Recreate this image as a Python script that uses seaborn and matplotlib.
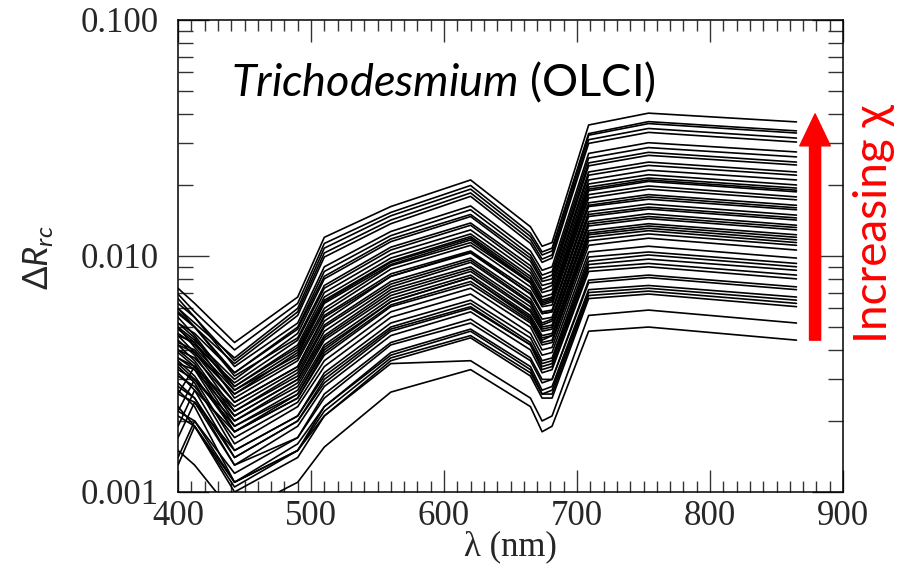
import numpy as np
import pandas as pd
import matplotlib
matplotlib.use("Agg")
import matplotlib.pyplot as plt
import seaborn as sns
from matplotlib.ticker import MultipleLocator, LogLocator, FixedLocator, FuncFormatter, NullFormatter
from matplotlib.patches import FancyArrowPatch

# ---------------- data ----------------
wavelengths = [400, 412.5, 442.5, 490, 510, 560, 620, 665, 673.75, 681.25, 708.75, 753.75, 865]

spectra = [
    [0.0073, 0.0063, 0.0043, 0.0067, 0.0120, 0.0162, 0.0210, 0.0133, 0.0110, 0.0114, 0.0359, 0.0403, 0.0370],
    [0.0069, 0.0058, 0.0040, 0.0063, 0.0113, 0.0153, 0.0199, 0.0125, 0.0104, 0.0108, 0.0330, 0.0371, 0.0339],
    [0.0060, 0.0052, 0.0037, 0.0060, 0.0108, 0.0148, 0.0192, 0.0121, 0.0101, 0.0105, 0.0325, 0.0364, 0.0332],
    [0.0066, 0.0055, 0.0036, 0.0058, 0.0103, 0.0142, 0.0185, 0.0117, 0.0097, 0.0101, 0.0311, 0.0347, 0.0316],
    [0.0058, 0.0050, 0.0035, 0.0056, 0.0099, 0.0137, 0.0179, 0.0113, 0.0094, 0.0098, 0.0300, 0.0334, 0.0304],
    [0.0063, 0.0055, 0.0034, 0.0052, 0.0090, 0.0127, 0.0163, 0.0105, 0.0087, 0.0090, 0.0272, 0.0302, 0.0276],
    [0.0052, 0.0047, 0.0032, 0.0050, 0.0086, 0.0122, 0.0157, 0.0101, 0.0083, 0.0086, 0.0260, 0.0288, 0.0263],
    [0.0060, 0.0050, 0.0032, 0.0049, 0.0082, 0.0118, 0.0150, 0.0098, 0.0080, 0.0083, 0.0248, 0.0275, 0.0250],
    [0.0050, 0.0044, 0.0030, 0.0047, 0.0080, 0.0115, 0.0147, 0.0095, 0.0078, 0.0080, 0.0241, 0.0267, 0.0243],
    [0.0057, 0.0050, 0.0031, 0.0045, 0.0075, 0.0109, 0.0138, 0.0091, 0.0075, 0.0077, 0.0227, 0.0250, 0.0227],
    [0.0047, 0.0042, 0.0029, 0.0044, 0.0073, 0.0106, 0.0135, 0.0088, 0.0072, 0.0075, 0.0220, 0.0242, 0.0220],
    [0.0055, 0.0046, 0.0028, 0.0042, 0.0070, 0.0102, 0.0129, 0.0085, 0.0070, 0.0072, 0.0210, 0.0231, 0.0210],
    [0.0046, 0.0043, 0.0028, 0.0041, 0.0067, 0.0098, 0.0124, 0.0082, 0.0067, 0.0069, 0.0202, 0.0221, 0.0200],
    [0.0052, 0.0045, 0.0027, 0.0040, 0.0065, 0.0095, 0.0121, 0.0080, 0.0065, 0.0067, 0.0196, 0.0214, 0.0194],
    [0.0043, 0.0040, 0.0026, 0.0039, 0.0064, 0.0094, 0.0119, 0.0078, 0.0064, 0.0066, 0.0192, 0.0210, 0.0190],
    [0.0050, 0.0041, 0.0027, 0.0038, 0.0063, 0.0092, 0.0117, 0.0077, 0.0063, 0.0065, 0.0189, 0.0207, 0.0187],
    [0.0042, 0.0039, 0.0026, 0.0037, 0.0060, 0.0091, 0.0114, 0.0077, 0.0062, 0.0064, 0.0182, 0.0198, 0.0178],
    [0.0049, 0.0043, 0.0025, 0.0036, 0.0058, 0.0088, 0.0111, 0.0074, 0.0061, 0.0062, 0.0176, 0.0192, 0.0173],
    [0.0040, 0.0037, 0.0024, 0.0034, 0.0056, 0.0084, 0.0105, 0.0071, 0.0058, 0.0059, 0.0168, 0.0182, 0.0164],
    [0.0046, 0.0039, 0.0024, 0.0034, 0.0055, 0.0082, 0.0103, 0.0069, 0.0057, 0.0058, 0.0164, 0.0178, 0.0160],
    [0.0026, 0.0034, 0.0023, 0.0033, 0.0053, 0.0082, 0.0104, 0.0069, 0.0057, 0.0058, 0.0162, 0.0174, 0.0157],
    [0.0044, 0.0038, 0.0022, 0.0032, 0.0051, 0.0078, 0.0098, 0.0066, 0.0054, 0.0055, 0.0154, 0.0166, 0.0149],
    [0.0037, 0.0034, 0.0022, 0.0031, 0.0050, 0.0076, 0.0096, 0.0064, 0.0052, 0.0054, 0.0150, 0.0161, 0.0145],
    [0.0042, 0.0036, 0.0021, 0.0030, 0.0048, 0.0074, 0.0094, 0.0063, 0.0051, 0.0053, 0.0147, 0.0158, 0.0142],
    [0.0035, 0.0033, 0.0021, 0.0030, 0.0046, 0.0072, 0.0090, 0.0061, 0.0050, 0.0051, 0.0140, 0.0151, 0.0135],
    [0.0040, 0.0035, 0.0020, 0.0029, 0.0045, 0.0070, 0.0088, 0.0059, 0.0049, 0.0050, 0.0137, 0.0147, 0.0132],
    [0.0022, 0.0030, 0.0020, 0.0028, 0.0044, 0.0068, 0.0086, 0.0058, 0.0048, 0.0049, 0.0134, 0.0144, 0.0129],
    [0.0039, 0.0034, 0.0019, 0.0027, 0.0042, 0.0066, 0.0083, 0.0056, 0.0046, 0.0047, 0.0128, 0.0137, 0.0123],
    [0.0033, 0.0030, 0.0019, 0.0026, 0.0041, 0.0064, 0.0081, 0.0054, 0.0045, 0.0046, 0.0125, 0.0134, 0.0120],
    [0.0037, 0.0033, 0.0018, 0.0026, 0.0040, 0.0064, 0.0081, 0.0055, 0.0044, 0.0046, 0.0123, 0.0131, 0.0117],
    [0.0019, 0.0027, 0.0018, 0.0025, 0.0039, 0.0062, 0.0078, 0.0053, 0.0043, 0.0044, 0.0120, 0.0128, 0.0114],
    [0.0036, 0.0031, 0.0018, 0.0025, 0.0038, 0.0061, 0.0076, 0.0052, 0.0042, 0.0043, 0.0116, 0.0124, 0.0111],
    [0.0031, 0.0028, 0.0017, 0.0024, 0.0036, 0.0058, 0.0073, 0.0050, 0.0040, 0.0041, 0.0111, 0.0119, 0.0106],
    [0.0035, 0.0030, 0.0016, 0.0023, 0.0034, 0.0055, 0.0069, 0.0047, 0.0038, 0.0039, 0.0104, 0.0110, 0.0098],
    [0.0017, 0.0024, 0.0015, 0.0021, 0.0032, 0.0052, 0.0065, 0.0045, 0.0036, 0.0037, 0.0099, 0.0104, 0.0093],
    [0.0034, 0.0029, 0.0015, 0.0021, 0.0031, 0.0050, 0.0063, 0.0043, 0.0035, 0.0036, 0.0095, 0.0101, 0.0090],
    [0.0028, 0.0025, 0.0014, 0.0020, 0.0030, 0.0049, 0.0061, 0.0042, 0.0034, 0.0035, 0.0092, 0.0097, 0.0087],
    [0.0032, 0.0027, 0.0014, 0.0020, 0.0029, 0.0048, 0.0060, 0.0042, 0.0033, 0.0034, 0.0089, 0.0093, 0.0083],
    [0.0026, 0.0024, 0.0013, 0.0019, 0.0028, 0.0046, 0.0058, 0.0040, 0.0032, 0.0033, 0.0086, 0.0090, 0.0080],
    [0.0029, 0.0025, 0.0013, 0.0017, 0.0026, 0.0043, 0.0054, 0.0037, 0.0030, 0.0030, 0.0079, 0.0083, 0.0074],
    [0.0014, 0.0020, 0.0012, 0.0017, 0.0025, 0.0042, 0.0052, 0.0036, 0.0029, 0.0030, 0.0077, 0.0081, 0.0072],
    [0.0027, 0.0023, 0.0011, 0.0016, 0.0023, 0.0039, 0.0049, 0.0034, 0.0027, 0.0028, 0.0072, 0.0075, 0.0067],
    [0.0022, 0.0020, 0.0011, 0.0015, 0.0023, 0.0038, 0.0048, 0.0033, 0.0026, 0.0027, 0.0070, 0.0073, 0.0065],
    [0.0013, 0.0019, 0.00105, 0.0015, 0.0022, 0.0037, 0.0046, 0.0032, 0.0026, 0.0026, 0.0068, 0.0071, 0.0063],
    [0.0021, 0.0019, 0.0010, 0.0014, 0.0021, 0.0036, 0.0045, 0.0031, 0.0025, 0.0025, 0.0066, 0.0069, 0.0061],
    [0.0023, 0.0019, 0.0011, 0.0015, 0.0021, 0.0035, 0.0036, 0.0025, 0.0020, 0.0021, 0.0056, 0.0059, 0.0052],
    [0.0015, 0.0013, 0.0008, 0.0011, 0.00155, 0.00265, 0.0033, 0.0023, 0.0018, 0.0019, 0.0048, 0.0050, 0.0044],
]

x_ticks = [400, 500, 600, 700, 800, 900]
y_ticks = [0.001, 0.010, 0.100]
y_tick_labels = ["0.001", "0.010", "0.100"]
title_italic = "Trichodesmium"
title_plain = "(OLCI)"
arrow_label = "Increasing \u03c7"
x_label = "\u03bb (nm)"

# ---------------- style ----------------
sns.set_style("ticks")
plt.rcParams["font.family"] = ["Liberation Serif", "DejaVu Serif"]
plt.rcParams["mathtext.fontset"] = "custom"
plt.rcParams["mathtext.rm"] = "Lato"
plt.rcParams["mathtext.it"] = "Lato:italic"
plt.rcParams["mathtext.sf"] = "Lato"

rows = []
for i, spec in enumerate(spectra):
    for wl, v in zip(wavelengths, spec):
        rows.append({"line": i, "wl": wl, "value": v})
df = pd.DataFrame(rows)

fig = plt.figure(figsize=(9.08, 5.75), dpi=100)
ax = fig.add_axes([178 / 908, 1 - 492 / 575, 665 / 908, 472 / 575])

sns.lineplot(data=df, x="wl", y="value", units="line", estimator=None,
             color="black", linewidth=1.2, sort=False, legend=False, ax=ax)

ax.set_yscale("log")
ax.set_xlim(400, 900)
ax.set_ylim(0.001, 0.1)

ax.xaxis.set_major_locator(FixedLocator(x_ticks))
ax.xaxis.set_minor_locator(MultipleLocator(10))
ax.yaxis.set_major_locator(FixedLocator(y_ticks))
ax.yaxis.set_major_formatter(FuncFormatter(lambda v, p: dict(zip(y_ticks, y_tick_labels)).get(v, "")))
ax.yaxis.set_minor_locator(LogLocator(base=10, subs=np.arange(2, 10) * 1.0, numticks=20))
ax.yaxis.set_minor_formatter(NullFormatter())

for s in ax.spines.values():
    s.set_linewidth(1.1)
    s.set_color("black")

ax.tick_params(axis="both", which="both", direction="in", top=True, right=True,
               width=1.0, color="#333333")
ax.tick_params(axis="x", which="major", length=16, pad=6, labelsize=25)
ax.tick_params(axis="x", which="minor", length=8)
ax.tick_params(axis="y", which="major", length=22, pad=14, labelsize=25)
ax.tick_params(axis="y", which="minor", length=11)
for lab in ax.get_xticklabels() + ax.get_yticklabels():
    lab.set_family(["Liberation Serif", "DejaVu Serif"])

ax.set_xlabel(x_label, fontsize=25, family=["Liberation Serif", "DejaVu Serif"])
ax.xaxis.set_label_coords(0.5, -0.082)
ax.set_ylabel(r"$\Delta R_{rc}$", fontsize=25)
ax.yaxis.set_label_coords(-0.183, 0.496)

# annotation text inside plot
ax.text(0.08, 0.838, r"$\mathit{" + title_italic + r"}$" + " " + title_plain,
        transform=ax.transAxes, fontsize=32.5, family=["Lato", "DejaVu Sans"],
        ha="left", va="baseline", color="black")

# red arrow
arrow = FancyArrowPatch((879, 0.0044), (879, 0.040),
                        arrowstyle="simple,head_length=23,head_width=22,tail_width=8",
                        mutation_scale=1, color="red", shrinkA=0, shrinkB=0,
                        clip_on=False, zorder=5)
ax.add_patch(arrow)

fig.text(874 / 908, 1 - 224 / 575, arrow_label, rotation=90, color="red",
         fontsize=33, family=["Lato", "Open Sans", "DejaVu Sans"],
         ha="center", va="center")

fig.savefig("out.png", dpi=100)
